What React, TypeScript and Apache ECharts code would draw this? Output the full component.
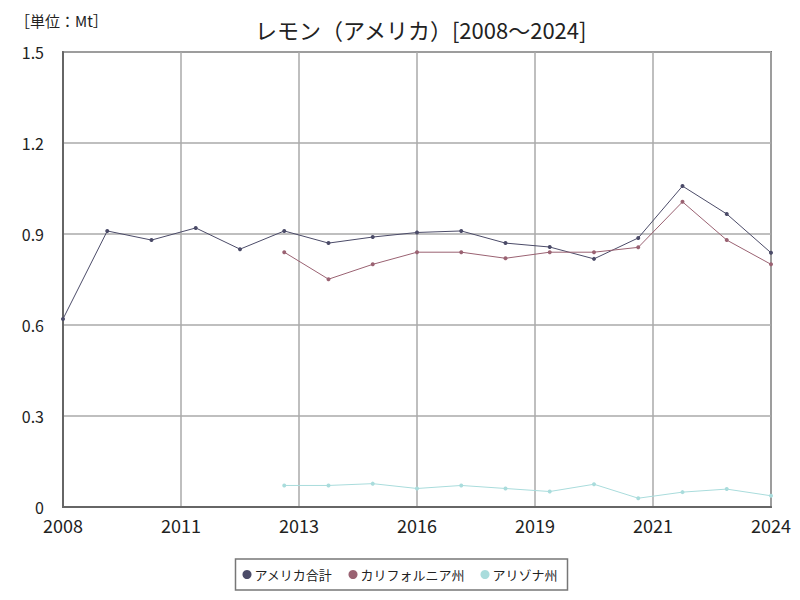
import React, { useEffect, useRef } from "react";
import * as echarts from "echarts";

const years = [2008, 2009, 2010, 2011, 2012, 2013, 2014, 2015, 2016, 2017, 2018, 2019, 2020, 2021, 2022, 2023, 2024];
const usTotal = [0.62, 0.91, 0.88, 0.92, 0.85, 0.91, 0.87, 0.89, 0.905, 0.91, 0.87, 0.857, 0.818, 0.887, 1.058, 0.966, 0.838];
const california = [null, null, null, null, null, 0.84, 0.751, 0.80, 0.84, 0.84, 0.82, 0.84, 0.84, 0.856, 1.006, 0.88, 0.80];
const arizona = [null, null, null, null, null, 0.071, 0.071, 0.077, 0.061, 0.071, 0.061, 0.051, 0.075, 0.029, 0.049, 0.059, 0.037];
const seriesNames = ["アメリカ合計", "カリフォルニア州", "アリゾナ州"];
const colors = ["#4b4b68", "#9a6272", "#a9dcdc"];

const font = "'Noto Sans CJK JP', sans-serif";

function toPairs(vals: (number | null)[]) {
  return years.map((y, i) => [y, vals[i]]).filter((p) => p[1] !== null);
}

export default function App() {
  const ref = useRef<HTMLDivElement>(null);
  useEffect(() => {
    if (!ref.current) return;
    const chart = echarts.init(ref.current, undefined, { renderer: "svg" });
    const all = [usTotal, california, arizona];
    chart.setOption({
      animation: false,
      backgroundColor: "#ffffff",
      title: [
        {
          text: "レモン（アメリカ）[2008～2024]",
          left: 250,
          top: 13,
          textStyle: { fontFamily: font, fontSize: 22, fontWeight: "normal", color: "#222" },
        },
        {
          text: "［単位：Mt］",
          left: 10,
          top: 8,
          textStyle: { fontFamily: font, fontSize: 15, fontWeight: "normal", color: "#222" },
        },
      ],
      legend: {
        bottom: 10,
        left: "center",
        data: seriesNames,
        icon: "circle",
        itemWidth: 9,
        itemHeight: 9,
        itemGap: 16,
        borderColor: "#777",
        borderWidth: 1.5,
        padding: [9, 10, 9, 7],
        textStyle: { fontFamily: font, fontSize: 13, color: "#222", padding: [0, 0, 0, -2] },
      },
      grid: { left: 63, right: 29, top: 52, bottom: 93, show: true, borderColor: "#777", borderWidth: 2 },
      xAxis: {
        type: "value",
        min: 2008,
        max: 2024,
        interval: 16 / 6,
        axisLine: { show: true, lineStyle: { color: "#666", width: 2 } },
        axisTick: { show: false },
        splitLine: { show: true, lineStyle: { color: "#aaa", width: 1.5 } },
        axisLabel: {
          formatter: (v: number) => String(Math.round(v)),
          fontFamily: font,
          fontSize: 18,
          color: "#222",
          margin: 9,
        },
      },
      yAxis: {
        type: "value",
        min: 0,
        max: 1.5,
        interval: 0.3,
        axisLine: { show: true, lineStyle: { color: "#666", width: 2 } },
        axisTick: { show: false },
        splitLine: { show: true, lineStyle: { color: "#aaa", width: 1.5 } },
        axisLabel: {
          formatter: (v: number) => (v === 0 ? "0" : v.toFixed(1)),
          fontFamily: font,
          fontSize: 16,
          color: "#222",
          margin: 19,
        },
      },
      series: seriesNames.map((name, i) => ({
        name,
        type: "line",
        data: toPairs(all[i]),
        color: colors[i],
        symbol: "circle",
        symbolSize: 4,
        lineStyle: { width: 1, color: colors[i] },
        itemStyle: { color: colors[i] },
      })),
    });
    return () => chart.dispose();
  }, []);
  return <div ref={ref} style={{ width: 800, height: 600, position: "absolute", left: 0, top: 0 }} />;
}
